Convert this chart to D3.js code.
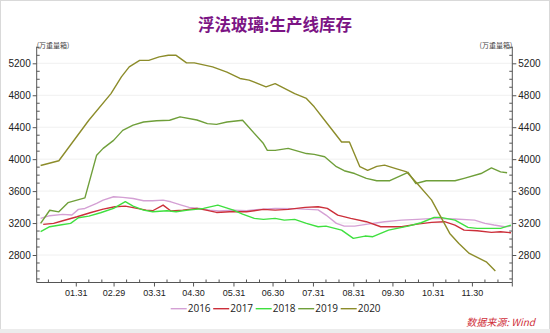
<!DOCTYPE html>
<html><head><meta charset="utf-8">
<script src="https://cdn.jsdelivr.net/npm/d3@7"></script>
<style>
html,body{margin:0;padding:0;background:#fff;}
svg{display:block;font-family:"Open Sans","Noto Sans",sans-serif;}
</style></head>
<body><svg id="c" width="550" height="333"></svg>
<script>
const title = "浮法玻璃:生产线库存";
const unitLabel = "(万重量箱)";
const sourceLabel = "数据来源:  Wind";
const seriesNames = ["2016","2017","2018","2019","2020"];
const seriesColors = ["#d4a0d4","#cc2f3a","#3fe03f","#6f9f3a","#8c8c2a"];
const yTicks = [2800,3200,3600,4000,4400,4800,5200];
const xTickLabels = ["01.31","02.29","03.31","04.30","05.31","06.30","07.31","08.31","09.30","10.31","11.30"];

const dates2016 = ["01-04","01-11","01-21","01-28","02-02","02-07","02-16","02-21","02-29","03-07","03-15","03-23","03-30","04-07","04-13","04-21","04-27","05-05","05-13","05-20","05-31","06-10","06-20","07-02","07-17","08-04","08-10","08-18","08-24","09-01","09-11","09-24","10-07","10-19","11-01","11-17","12-02","12-10","12-17","12-25","12-30"];
const values2016 = [3258,3292,3308,3300,3371,3383,3446,3487,3529,3521,3508,3479,3479,3487,3466,3425,3396,3383,3362,3350,3362,3354,3371,3383,3380,3365,3300,3196,3162,3162,3187,3217,3237,3246,3258,3250,3237,3196,3175,3154,3162];

const dates2017 = ["01-06","01-14","01-21","02-01","02-11","02-21","03-01","03-09","03-18","03-25","03-30","04-07","04-13","04-22","05-03","05-10","05-18","05-28","06-10","06-23","07-02","07-12","07-25","08-04","08-11","08-19","08-29","09-10","09-21","10-07","10-19","10-30","11-09","11-17","11-24","12-04","12-15","12-22","12-30"];
const values2017 = [3183,3196,3229,3279,3329,3375,3404,3412,3383,3362,3354,3425,3350,3362,3383,3362,3333,3341,3341,3371,3362,3371,3396,3404,3383,3300,3258,3217,3154,3154,3187,3208,3217,3175,3112,3104,3083,3091,3079];

const dates2018 = ["01-04","01-11","01-19","01-27","02-02","02-10","02-19","02-29","03-09","03-15","03-23","03-30","04-10","04-17","04-26","05-08","05-19","05-31","06-07","06-16","06-23","07-02","07-09","07-17","07-26","08-04","08-10","08-22","08-31","09-09","09-15","09-27","10-12","10-22","11-01","11-06","11-17","11-27","12-04","12-15","12-22","12-30"];
const values2018 = [3092,3154,3175,3196,3267,3287,3329,3383,3467,3412,3362,3341,3354,3341,3362,3383,3425,3362,3312,3258,3246,3258,3237,3246,3196,3154,3162,3112,3008,3037,3029,3112,3162,3204,3271,3271,3237,3146,3133,3133,3133,3175];

const dates2019 = ["01-04","01-11","01-18","01-25","02-07","02-16","02-21","02-29","03-07","03-15","03-23","04-02","04-12","04-20","05-03","05-11","05-18","05-26","06-07","06-23","06-26","07-02","07-12","07-26","08-01","08-09","08-18","08-24","09-01","09-10","09-18","09-28","10-12","10-18","10-26","11-17","11-24","12-07","12-15","12-22","12-27"];
const values2019 = [3195,3360,3340,3455,3515,4050,4135,4235,4360,4425,4465,4480,4487,4530,4490,4445,4435,4465,4487,4195,4110,4110,4135,4070,4060,4030,3905,3855,3820,3760,3730,3730,3835,3695,3730,3730,3760,3820,3890,3840,3830];

const dates2020 = ["01-04","01-18","02-10","02-27","03-06","03-12","03-20","03-27","04-04","04-11","04-17","04-25","05-01","05-15","05-26","06-05","06-12","06-25","07-02","07-17","07-26","08-01","08-09","08-22","08-28","09-05","09-11","09-18","09-24","10-02","10-11","10-19","10-30","11-06","11-13","11-20","11-28","12-11","12-18"];
const values2020 = [3920,3980,4487,4821,5030,5155,5237,5237,5280,5300,5300,5205,5205,5155,5090,5010,4990,4905,4945,4820,4760,4655,4487,4215,4215,3905,3860,3910,3925,3885,3840,3695,3490,3280,3070,2945,2820,2715,2600];

const seriesDates = [dates2016,dates2017,dates2018,dates2019,dates2020];
const seriesValues = [values2016,values2017,values2018,values2019,values2020];

const parse = d3.timeParse("%Y-%m-%d");
const svg = d3.select("#c");
const W = 550, H = 333;

// frame
svg.append("rect").attr("x",0.5).attr("y",0.5).attr("width",W-1).attr("height",H-1)
  .attr("fill","#fff").attr("stroke","#d9d9d9");
svg.append("rect").attr("x",0).attr("y",329).attr("width",W).attr("height",4).attr("fill","#ececec");

const L = 36.7, R = 512.3, T = 46.7, B = 282.5;
const x = d3.scaleTime().domain([parse("2020-01-01"), parse("2020-12-31")]).range([L, R]);
const y = d3.scaleLinear().domain([2800, 5200]).range([255, 63.3]);

// gridlines
svg.append("g").selectAll("line").data(yTicks).join("line")
  .attr("x1",L).attr("x2",R).attr("y1",d=>y(d)).attr("y2",d=>y(d))
  .attr("stroke","#f0f0f0").attr("stroke-width",1);

// lines
const line = d3.line().x(d=>x(d[0])).y(d=>y(d[1]));
seriesNames.forEach((n,i)=>{
  const pts = seriesDates[i].map((d,j)=>[parse("2020-"+d), seriesValues[i][j]]);
  svg.append("path").datum(pts).attr("d",line).attr("fill","none")
    .attr("stroke",seriesColors[i]).attr("stroke-width",1.4).attr("stroke-linejoin","round");
});

const axisColor = "#555";
// axis lines
svg.append("line").attr("x1",L).attr("x2",L).attr("y1",T).attr("y2",B).attr("stroke",axisColor);
svg.append("line").attr("x1",R).attr("x2",R).attr("y1",T).attr("y2",B).attr("stroke",axisColor);
svg.append("line").attr("x1",L).attr("x2",R).attr("y1",B).attr("y2",B).attr("stroke",axisColor);

// y axes
const minorY = d3.range(2500, 5401, 100).filter(v => y(v) <= B && y(v) >= T && !yTicks.includes(v));
const yl = svg.append("g").attr("transform",`translate(${L},0)`)
  .call(d3.axisLeft(y).tickValues(yTicks).tickSize(4).tickPadding(2).tickFormat(d3.format("d")));
const yr = svg.append("g").attr("transform",`translate(${R},0)`)
  .call(d3.axisRight(y).tickValues(yTicks).tickSize(4).tickPadding(2).tickFormat(d3.format("d")));
[yl,yr].forEach(g=>{
  g.select(".domain").remove();
  g.selectAll(".tick line").attr("stroke",axisColor);
  g.selectAll(".tick text").attr("fill","#222").style("font-size","10px");
});
svg.append("g").selectAll("line").data(minorY).join("line")
  .attr("x1",L).attr("x2",L+3).attr("y1",d=>y(d)).attr("y2",d=>y(d)).attr("stroke",axisColor);
svg.append("g").selectAll("line").data(minorY).join("line")
  .attr("x1",R-3).attr("x2",R).attr("y1",d=>y(d)).attr("y2",d=>y(d)).attr("stroke",axisColor);

// x axis
const monthEnds = xTickLabels.map(s=>parse("2020-"+s.replace(".","-")));
const xa = svg.append("g").attr("transform",`translate(0,${B})`)
  .call(d3.axisBottom(x).tickValues(monthEnds).tickSize(4).tickPadding(3).tickFormat((d,i)=>xTickLabels[i]));
xa.select(".domain").remove();
xa.selectAll(".tick line").attr("stroke",axisColor);
xa.selectAll(".tick text").attr("fill","#222").style("font-size","9px");
const minorX = [];
for (let m=0;m<12;m++){ minorX.push(new Date(2020,m,10)); minorX.push(new Date(2020,m,20)); }
svg.append("g").selectAll("line").data(minorX).join("line")
  .attr("x1",d=>x(d)).attr("x2",d=>x(d)).attr("y1",B-3).attr("y2",B).attr("stroke",axisColor);
svg.append("line").attr("x1",x(new Date(2020,11,31))).attr("x2",x(new Date(2020,11,31)))
  .attr("y1",B).attr("y2",B+4).attr("stroke",axisColor);

// title
svg.append("text").attr("x",275).attr("y",30.5).attr("text-anchor","middle")
  .attr("fill","#7b1484").style("font-size","16.5px").style("font-weight","bold")
  .style("font-family","'Noto Sans CJK SC',sans-serif").text(title);

// unit labels
svg.append("text").attr("x",L).attr("y",47.5).attr("text-anchor","start")
  .attr("fill","#444").style("font-size","7px").style("font-family","'Noto Sans CJK SC',sans-serif").text(unitLabel);
svg.append("text").attr("x",R).attr("y",47.5).attr("text-anchor","end")
  .attr("fill","#444").style("font-size","7px").style("font-family","'Noto Sans CJK SC',sans-serif").text(unitLabel);

// legend
const lg = svg.append("g").attr("transform","translate(170.7,308.7)");
seriesNames.forEach((n,i)=>{
  const gx = i*42.5;
  lg.append("line").attr("x1",gx).attr("x2",gx+16).attr("y1",0).attr("y2",0)
    .attr("stroke",seriesColors[i]).attr("stroke-width",1.4);
  lg.append("text").attr("x",gx+17).attr("y",3.6).attr("fill","#222")
    .style("font-size","10px").text(n);
});

// source
svg.append("text").attr("x",535).attr("y",326).attr("text-anchor","end")
  .attr("fill","#d0303a").style("font-size","10px").style("font-style","italic")
  .style("font-family","'Noto Sans CJK SC',sans-serif").text(sourceLabel);
</script></body></html>
